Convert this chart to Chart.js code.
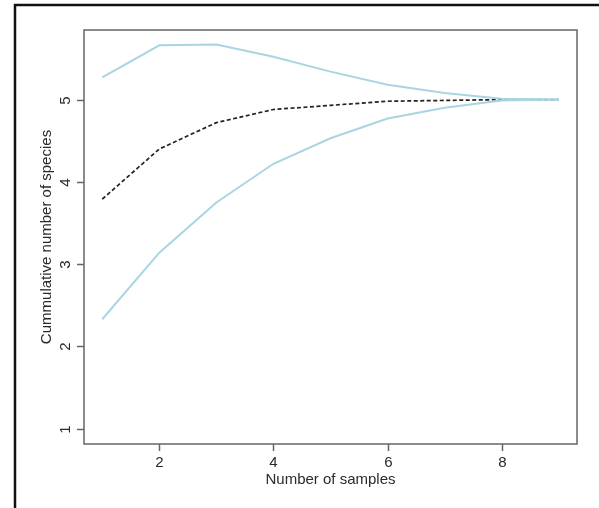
<!DOCTYPE html>
<html>
<head>
<meta charset="utf-8">
<script src="https://cdn.jsdelivr.net/npm/chart.js@4"></script>
<style>
  body { margin: 0; background: #fff; }
  canvas { display: block; }
</style>
</head>
<body>
<canvas id="accum" width="599" height="508"></canvas>
<script>
const samples = [1, 2, 3, 4, 5, 6, 7, 8, 9];
const upper = [5.27, 5.66, 5.67, 5.52, 5.34, 5.18, 5.08, 5.01, 5.0];
const richness = [3.79, 4.40, 4.72, 4.88, 4.93, 4.98, 4.99, 5.0, 5.0];
const lower = [2.33, 3.14, 3.75, 4.22, 4.53, 4.77, 4.90, 4.99, 5.0];
const xTicks = [2, 4, 6, 8];
const yTicks = [1, 2, 3, 4, 5];

const font = '15px "Liberation Sans", Arial, sans-serif';
const pts = arr => arr.map((v, i) => ({ x: samples[i], y: v }));

// box, ticks and labels drawn R-style from the chart scales
const frame = {
  id: 'frame',
  afterDraw(chart) {
    const ctx = chart.ctx, a = chart.chartArea;
    const xs = chart.scales.x, ys = chart.scales.y;
    ctx.save();
    // outer figure frame
    ctx.strokeStyle = '#111';
    ctx.lineWidth = 2.5;
    ctx.beginPath();
    ctx.moveTo(15, 520); ctx.lineTo(15, 5); ctx.lineTo(610, 5);
    ctx.stroke();

    ctx.strokeStyle = '#666';
    ctx.lineWidth = 1.5;
    ctx.strokeRect(a.left, a.top, a.right - a.left, a.bottom - a.top);

    ctx.fillStyle = '#2a2a2a';
    ctx.font = font;
    ctx.textAlign = 'center';
    ctx.textBaseline = 'middle';
    xTicks.forEach(t => {
      const px = Math.round(xs.getPixelForValue(t)) + 0.5;
      ctx.beginPath(); ctx.moveTo(px, a.bottom); ctx.lineTo(px, a.bottom + 7); ctx.stroke();
      ctx.fillText(String(t), px, a.bottom + 19);
    });
    yTicks.forEach(t => {
      const py = Math.round(ys.getPixelForValue(t)) + 0.5;
      ctx.beginPath(); ctx.moveTo(a.left, py); ctx.lineTo(a.left - 7, py); ctx.stroke();
      ctx.save();
      ctx.translate(a.left - 18, py);
      ctx.rotate(-Math.PI / 2);
      ctx.fillText(String(t), 0, 0);
      ctx.restore();
    });

    ctx.fillText('Number of samples', (a.left + a.right) / 2, a.bottom + 36);
    ctx.save();
    ctx.translate(47, (a.top + a.bottom) / 2);
    ctx.rotate(-Math.PI / 2);
    ctx.fillText('Cummulative number of species', 0, 0);
    ctx.restore();
    ctx.restore();
  }
};

new Chart(document.getElementById('accum'), {
  type: 'line',
  data: {
    datasets: [
      { data: pts(upper), borderColor: '#a9d5e3', borderWidth: 2, pointRadius: 0, tension: 0 },
      { data: pts(lower), borderColor: '#a9d5e3', borderWidth: 2, pointRadius: 0, tension: 0 },
      { data: pts(richness), borderColor: '#222', borderWidth: 1.7, borderDash: [4, 2.5], pointRadius: 0, tension: 0 }
    ]
  },
  options: {
    responsive: false,
    animation: false,
    layout: { padding: { left: 84, top: 30, right: 22, bottom: 64 } },
    plugins: { legend: { display: false }, tooltip: { enabled: false } },
    scales: {
      x: { type: 'linear', min: 0.68, max: 9.32, display: false },
      y: { type: 'linear', min: 0.814, max: 5.846, display: false }
    }
  },
  plugins: [frame]
});
</script>
</body>
</html>
